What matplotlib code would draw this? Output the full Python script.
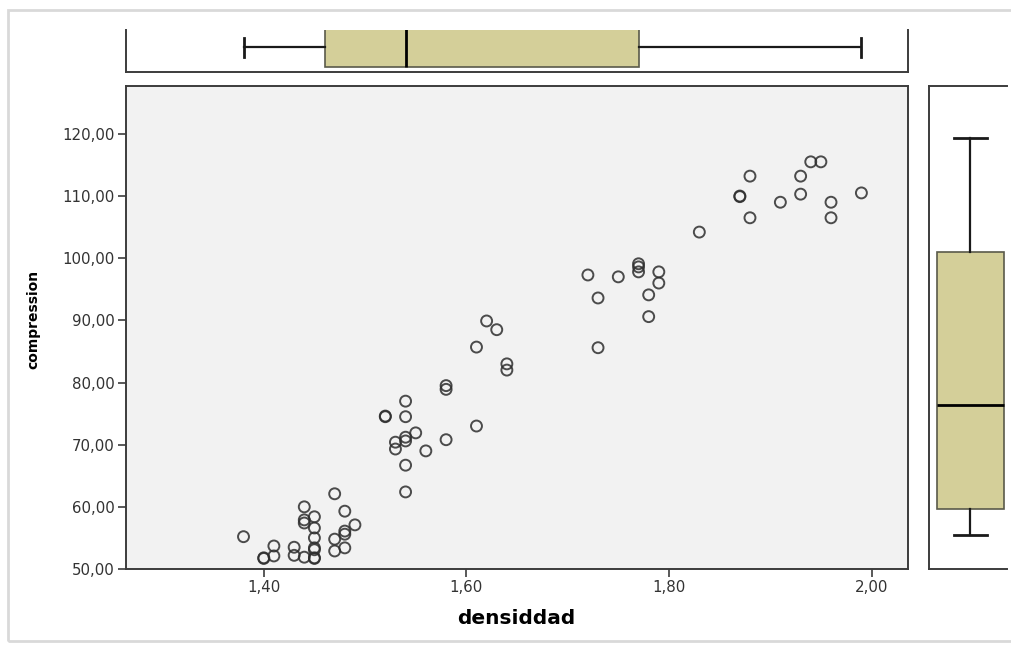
import matplotlib
matplotlib.use('Agg')
import matplotlib.pyplot as plt
from matplotlib.patches import Rectangle
from matplotlib.ticker import FuncFormatter

# datos (densiddad, compresion)
densiddad = [1.38, 1.40, 1.40, 1.41, 1.41, 1.43, 1.43, 1.44, 1.44, 1.44, 1.44,
             1.45, 1.45, 1.45, 1.45, 1.45, 1.45, 1.45, 1.47, 1.47, 1.47,
             1.48, 1.48, 1.48, 1.48, 1.49,
             1.52, 1.52, 1.53, 1.53, 1.54, 1.54, 1.54, 1.54, 1.54, 1.54, 1.55, 1.56,
             1.58, 1.58, 1.58, 1.61, 1.61, 1.62, 1.63, 1.64, 1.64,
             1.72, 1.73, 1.73, 1.75, 1.77, 1.77, 1.77, 1.78, 1.78, 1.79, 1.79,
             1.83, 1.87, 1.87, 1.88, 1.88, 1.91, 1.93, 1.93, 1.94, 1.95,
             1.96, 1.96, 1.99]
compresion = [55.2, 51.8, 51.7, 53.7, 52.1, 53.5, 52.2, 60.0, 57.9, 57.4, 51.9,
              58.4, 56.6, 55.0, 53.4, 53.1, 51.8, 51.7, 62.1, 54.8, 52.9,
              59.3, 56.1, 55.6, 53.4, 57.1,
              74.5, 74.6, 70.4, 69.3, 77.0, 74.5, 71.2, 70.6, 66.7, 62.4, 71.9, 69.0,
              79.5, 78.9, 70.8, 73.0, 85.7, 89.9, 88.5, 83.0, 82.0,
              97.3, 93.6, 85.6, 97.0, 99.1, 98.6, 97.8, 94.1, 90.6, 97.8, 96.0,
              104.2, 109.9, 110.0, 113.2, 106.5, 109.0, 113.2, 110.3, 115.5, 115.5,
              109.0, 106.5, 110.5]

# cajas tal como aparecen en el grafico
caja_dens = dict(whislo=1.38, q1=1.46, med=1.54, q3=1.77, whishi=1.99)
caja_comp = dict(whislo=55.5, q1=59.7, med=76.4, q3=101.0, whishi=119.4)

xticks = [1.40, 1.60, 1.80, 2.00]
yticks = [50, 60, 70, 80, 90, 100, 110, 120]

W, H = 1012, 649
fig = plt.figure(figsize=(W / 100, H / 100), dpi=100)
fig.patch.set_facecolor('white')

# marco gris claro alrededor
fig.patches.append(Rectangle((8 / W, 1 - 641 / H), 1.2, (641 - 10) / H,
                             transform=fig.transFigure, fill=False,
                             edgecolor='#d9d9d9', lw=2))


def px_axes(x0, y0, x1, y1):
    return fig.add_axes([x0 / W, 1 - y1 / H, (x1 - x0) / W, (y1 - y0) / H])


spine_col = '#3c3c3c'
box_col = '#d4cf99'
coma = FuncFormatter(lambda v, p: '{:.2f}'.format(v).replace('.', ','))

# --- diagrama de dispersion ---
ax = px_axes(126, 86, 908, 569)
ax.set_facecolor('#f2f2f2')
ax.scatter(densiddad, compresion, s=62, facecolors='none',
           edgecolors='#2e2e2e', linewidths=1.4, alpha=0.85, zorder=3)
ax.set_xlim(1.264, 2.036)
ax.set_ylim(50, 127.7)
ax.set_xticks(xticks)
ax.set_yticks(yticks)
ax.xaxis.set_major_formatter(coma)
ax.yaxis.set_major_formatter(coma)
ax.tick_params(direction='out', length=6, width=1.2, color=spine_col,
               labelsize=10.8, labelcolor='#333333', pad=2)
for s in ax.spines.values():
    s.set_color(spine_col)
    s.set_linewidth(1.4)
ax.set_xlabel('densiddad', fontsize=14.5, fontweight='bold')
ax.set_ylabel('compression', fontsize=10, fontweight='bold')
ax.xaxis.set_label_coords(0.499, -0.083)
ax.yaxis.set_label_coords(-0.110, 0.516)

box_kw = dict(patch_artist=True, showfliers=False,
              boxprops=dict(facecolor=box_col, edgecolor='#5a5a4a', linewidth=1.2),
              medianprops=dict(color='black', linewidth=2),
              whiskerprops=dict(color='#1a1a1a', linewidth=1.6),
              capprops=dict(color='#1a1a1a', linewidth=2))

# --- caja superior (densiddad) ---
axt = px_axes(126, 30, 908, 72)
axt.bxp([caja_dens], positions=[0.595], widths=0.952, capwidths=0.452,
        vert=False, **box_kw)
axt.set_xlim(ax.get_xlim())
axt.set_ylim(0, 1)
axt.set_xticks([])
axt.set_yticks([])
axt.spines['top'].set_visible(False)
for k in ('left', 'right', 'bottom'):
    axt.spines[k].set_color(spine_col)
    axt.spines[k].set_linewidth(1.4)

# --- caja derecha (compresion) ---
axr = px_axes(929, 86, 1007, 569)
axr.bxp([caja_comp], positions=[0.532], widths=0.859, capwidths=0.423,
        vert=True, **box_kw)
axr.set_ylim(ax.get_ylim())
axr.set_xlim(0, 1)
axr.set_xticks([])
axr.set_yticks([])
axr.spines['right'].set_visible(False)
for k in ('left', 'top', 'bottom'):
    axr.spines[k].set_color(spine_col)
    axr.spines[k].set_linewidth(1.4)

fig.savefig('out.png', dpi=100)
